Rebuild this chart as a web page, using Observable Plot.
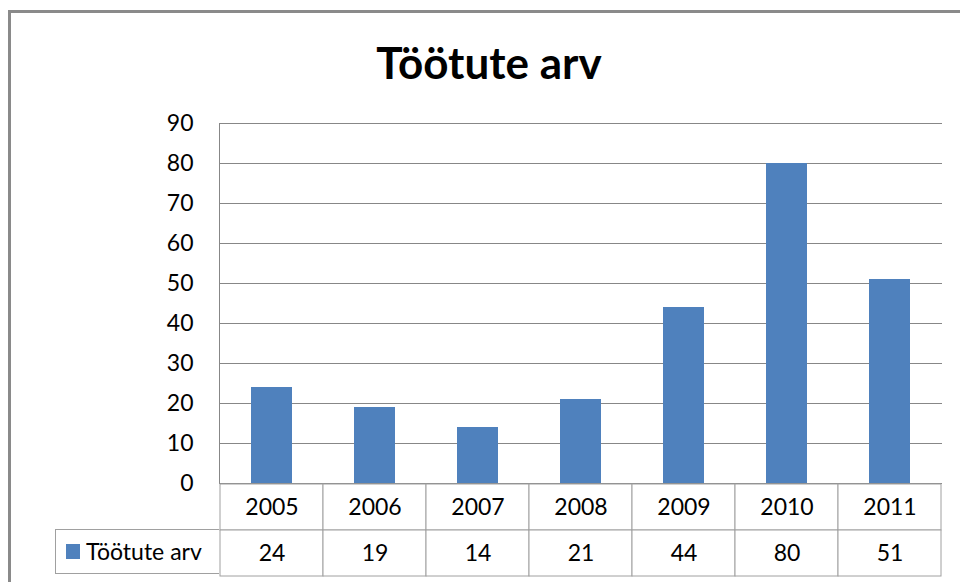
<!DOCTYPE html>
<html>
<head>
<meta charset="utf-8">
<script src="https://cdn.jsdelivr.net/npm/d3@7"></script>
<script src="https://cdn.jsdelivr.net/npm/@observablehq/plot@0.6"></script>
<style>
  html, body { margin: 0; padding: 0; background: #fff; }
  #wrap { position: relative; width: 960px; height: 582px; overflow: hidden; font-family: Lato, sans-serif; }
  #border { position: absolute; left: 8px; top: 10px; width: 1000px; height: 1000px; border-left: 3px solid #8a8a8a; border-top: 3px solid #8a8a8a; }
  #title { position: absolute; left: 0; width: 978px; top: 40px; text-align: center; font-size: 44px; line-height: 44px; font-weight: 700; color: #000; }
  #chart { position: absolute; left: 0; top: 0; }
  #table { position: absolute; left: 0; top: 482px; }
  #legend { position: absolute; left: 55px; top: 529px; width: 164px; height: 45px; border: 1px solid #a0a0a0; border-right: none; box-sizing: border-box; background: #fff; font-size: 23px; color: #000; }
  #legend .sw { position: absolute; left: 10px; top: 14px; width: 14px; height: 15px; background: #4f81bd; }
  #legend .lbl { position: absolute; left: 30px; top: 7px; line-height: 28px; white-space: nowrap; }
</style>
</head>
<body>
<div id="wrap">
  <div id="border"></div>
  <div id="title"></div>
  <div id="chart"></div>
  <div id="table"></div>
  <div id="legend"><div class="sw"></div><div class="lbl"></div></div>
</div>
<script>
const title = "Töötute arv";
const seriesName = "Töötute arv";
const years = ["2005", "2006", "2007", "2008", "2009", "2010", "2011"];
const values = [24, 19, 14, 21, 44, 80, 51];
const yTicks = [0, 10, 20, 30, 40, 50, 60, 70, 80, 90];
const rowKeys = ["year", "value"];

const barColor = "#4f81bd";
const data = years.map((year, i) => ({year, value: values[i]}));

document.getElementById("title").textContent = title;
document.querySelector("#legend .lbl").textContent = seriesName;

const chart = Plot.plot({
  width: 960,
  height: 490,
  marginLeft: 219,
  marginRight: 18,
  marginTop: 123,
  marginBottom: 7,
  style: {fontFamily: "Lato, sans-serif", fontSize: "23px", color: "#000", background: "transparent", overflow: "visible"},
  x: {domain: years, paddingInner: 0.6, paddingOuter: 0.3, axis: null},
  y: {domain: [0, 90], ticks: yTicks, label: null},
  marks: [
    Plot.gridY(yTicks, {stroke: "#878787", strokeOpacity: 1, strokeWidth: 1}),
    Plot.frame({anchor: "left", stroke: "#878787", strokeWidth: 1}),
    Plot.barY(data, {x: "year", y: "value", fill: barColor}),
    Plot.axisY(yTicks, {tickSize: 0, tickPadding: 26, fontSize: 23, fill: "#000", label: null})
  ]
});
document.getElementById("chart").appendChild(chart);

const cells = data.flatMap(d => [
  {year: d.year, row: "year", label: d.year},
  {year: d.year, row: "value", label: String(d.value)}
]);

const table = Plot.plot({
  width: 960,
  height: 95,
  marginLeft: 219,
  marginRight: 18,
  marginTop: 1,
  marginBottom: 1,
  style: {fontFamily: "Lato, sans-serif", fontSize: "23px", color: "#000", background: "transparent", overflow: "visible"},
  x: {domain: years, padding: 0, axis: null},
  y: {domain: rowKeys, padding: 0, axis: null},
  marks: [
    Plot.cell(cells, {x: "year", y: "row", fill: "#fff", stroke: "#a0a0a0", strokeWidth: 1}),
    Plot.text(cells, {x: "year", y: "row", text: "label", fontSize: 23, fill: "#000"})
  ]
});
document.getElementById("table").appendChild(table);
</script>
</body>
</html>
